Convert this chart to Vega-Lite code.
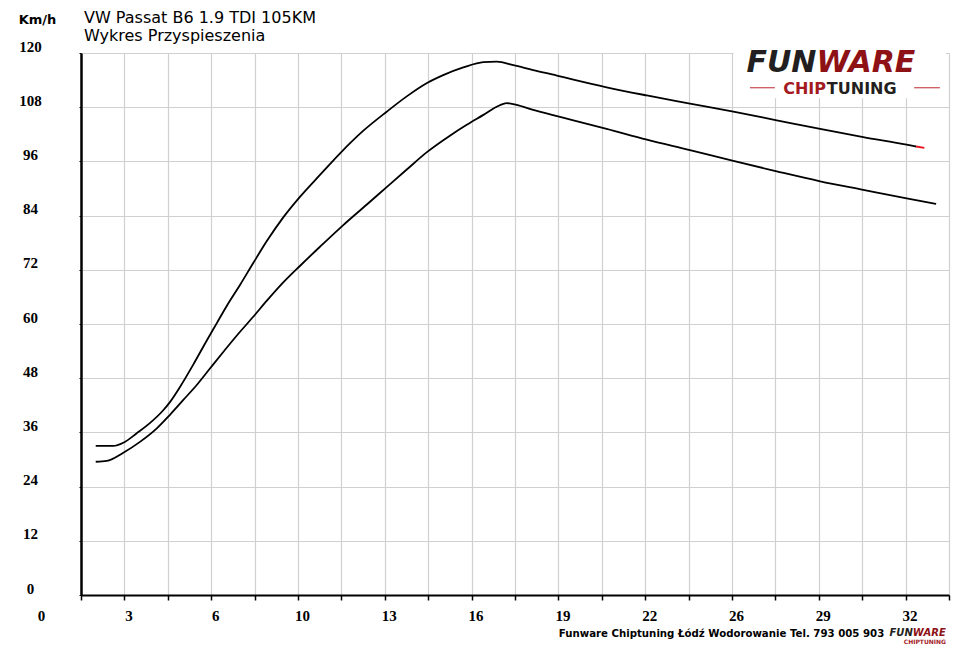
{
  "$schema": "https://vega.github.io/schema/vega-lite/v6.json",
  "width": 868,
  "height": 542,
  "autosize": {"type": "none"},
  "padding": {"left": 81, "top": 53, "right": 11, "bottom": 53},
  "background": "white",
  "title": {
    "text": "VW Passat B6 1.9 TDI 105KM",
    "subtitle": "Wykres Przyspieszenia",
    "anchor": "start",
    "frame": "group",
    "dx": 3,
    "offset": -31,
    "font": "DejaVu Sans",
    "fontSize": 16,
    "fontWeight": "normal",
    "color": "black",
    "subtitleFont": "DejaVu Sans",
    "subtitleFontSize": 16,
    "subtitleColor": "black",
    "subtitlePadding": 2
  },
  "config": {
    "view": {"stroke": null},
    "axis": {
      "gridColor": "#d0d0d0",
      "gridWidth": 1.2,
      "domainColor": "black",
      "tickColor": "black",
      "labelFont": "Liberation Serif",
      "labelFontWeight": "bold",
      "labelFontSize": 15,
      "labelColor": "black"
    }
  },
  "datasets": {
    "curves": [
      {"t": 1.95, "v": 33.0, "seria": "A"},
      {"t": 2.61, "v": 33.0, "seria": "A"},
      {"t": 2.98, "v": 33.7, "seria": "A"},
      {"t": 3.48, "v": 35.8, "seria": "A"},
      {"t": 3.98, "v": 38.1, "seria": "A"},
      {"t": 4.47, "v": 40.9, "seria": "A"},
      {"t": 4.72, "v": 42.7, "seria": "A"},
      {"t": 5.10, "v": 46.1, "seria": "A"},
      {"t": 5.59, "v": 51.0, "seria": "A"},
      {"t": 6.09, "v": 56.3, "seria": "A"},
      {"t": 6.47, "v": 60.2, "seria": "A"},
      {"t": 6.84, "v": 64.0, "seria": "A"},
      {"t": 7.34, "v": 68.7, "seria": "A"},
      {"t": 7.83, "v": 73.5, "seria": "A"},
      {"t": 8.33, "v": 78.3, "seria": "A"},
      {"t": 8.95, "v": 83.6, "seria": "A"},
      {"t": 9.58, "v": 88.2, "seria": "A"},
      {"t": 10.32, "v": 93.0, "seria": "A"},
      {"t": 11.07, "v": 97.8, "seria": "A"},
      {"t": 11.94, "v": 102.8, "seria": "A"},
      {"t": 12.81, "v": 107.0, "seria": "A"},
      {"t": 13.56, "v": 110.4, "seria": "A"},
      {"t": 14.30, "v": 113.3, "seria": "A"},
      {"t": 14.92, "v": 115.1, "seria": "A"},
      {"t": 15.67, "v": 116.8, "seria": "A"},
      {"t": 16.42, "v": 118.0, "seria": "A"},
      {"t": 16.92, "v": 118.1, "seria": "A"},
      {"t": 17.54, "v": 117.3, "seria": "A"},
      {"t": 18.28, "v": 116.2, "seria": "A"},
      {"t": 19.16, "v": 115.0, "seria": "A"},
      {"t": 19.78, "v": 114.1, "seria": "A"},
      {"t": 21.02, "v": 112.4, "seria": "A"},
      {"t": 22.52, "v": 110.6, "seria": "A"},
      {"t": 24.13, "v": 108.8, "seria": "A"},
      {"t": 25.75, "v": 107.0, "seria": "A"},
      {"t": 27.37, "v": 105.1, "seria": "A"},
      {"t": 28.99, "v": 103.2, "seria": "A"},
      {"t": 30.60, "v": 101.4, "seria": "A"},
      {"t": 32.22, "v": 99.7, "seria": "A"},
      {"t": 32.57, "v": 99.3, "seria": "A"},
      {"t": 32.57, "v": 99.3, "seria": "A_koniec"},
      {"t": 32.88, "v": 99.0, "seria": "A_koniec"},
      {"t": 1.95, "v": 29.5, "seria": "B"},
      {"t": 2.36, "v": 29.7, "seria": "B"},
      {"t": 2.98, "v": 31.5, "seria": "B"},
      {"t": 3.60, "v": 33.9, "seria": "B"},
      {"t": 4.23, "v": 36.9, "seria": "B"},
      {"t": 4.72, "v": 39.9, "seria": "B"},
      {"t": 5.22, "v": 43.2, "seria": "B"},
      {"t": 5.72, "v": 46.5, "seria": "B"},
      {"t": 6.22, "v": 50.2, "seria": "B"},
      {"t": 6.71, "v": 53.8, "seria": "B"},
      {"t": 7.21, "v": 57.4, "seria": "B"},
      {"t": 7.83, "v": 61.6, "seria": "B"},
      {"t": 8.33, "v": 65.1, "seria": "B"},
      {"t": 8.95, "v": 69.2, "seria": "B"},
      {"t": 9.58, "v": 72.9, "seria": "B"},
      {"t": 10.32, "v": 77.1, "seria": "B"},
      {"t": 11.19, "v": 81.9, "seria": "B"},
      {"t": 12.06, "v": 86.4, "seria": "B"},
      {"t": 12.81, "v": 90.3, "seria": "B"},
      {"t": 13.56, "v": 94.2, "seria": "B"},
      {"t": 14.30, "v": 98.0, "seria": "B"},
      {"t": 15.17, "v": 101.7, "seria": "B"},
      {"t": 15.80, "v": 104.1, "seria": "B"},
      {"t": 16.42, "v": 106.3, "seria": "B"},
      {"t": 16.92, "v": 108.1, "seria": "B"},
      {"t": 17.29, "v": 108.9, "seria": "B"},
      {"t": 17.66, "v": 108.5, "seria": "B"},
      {"t": 18.28, "v": 107.4, "seria": "B"},
      {"t": 18.91, "v": 106.4, "seria": "B"},
      {"t": 19.78, "v": 105.1, "seria": "B"},
      {"t": 21.02, "v": 103.2, "seria": "B"},
      {"t": 22.52, "v": 100.8, "seria": "B"},
      {"t": 24.13, "v": 98.5, "seria": "B"},
      {"t": 25.75, "v": 96.1, "seria": "B"},
      {"t": 27.37, "v": 93.8, "seria": "B"},
      {"t": 28.99, "v": 91.6, "seria": "B"},
      {"t": 30.60, "v": 89.7, "seria": "B"},
      {"t": 32.22, "v": 87.8, "seria": "B"},
      {"t": 33.32, "v": 86.6, "seria": "B"}
    ]
  },
  "layer": [
    {
      "data": {"name": "curves"},
      "mark": {"type": "line", "strokeWidth": 1.8, "interpolate": "monotone"},
      "encoding": {
        "x": {
          "field": "t",
          "type": "quantitative",
          "scale": {"domain": [1.4, 33.8], "nice": false, "zero": false},
          "axis": {
            "values": [1.4, 3.02, 4.64, 6.26, 7.88, 9.5, 11.12, 12.74, 14.36, 15.98, 17.6, 19.22, 20.84, 22.46, 24.08, 25.7, 27.32, 28.94, 30.56, 32.18, 33.8],
            "labelExpr": "round((datum.value - 1.4) / 1.62) % 2 == 1 ? format(round(datum.value), 'd') : ''",
            "domainWidth": 2,
            "tickSize": 5,
            "tickWidth": 1.5,
            "labelPadding": 15,
            "labelBaseline": "middle",
            "labelOffset": 4,
            "labelFlush": false,
            "labelOverlap": false,
            "title": "Funware Chiptuning Łódź Wodorowanie Tel. 793 005 903",
            "titleFont": "DejaVu Sans",
            "titleFontSize": 10.2,
            "titleFontWeight": "bold",
            "titleColor": "black",
            "titleX": 640,
            "titleY": 38,
            "titleAlign": "center",
            "titleBaseline": "middle"
          }
        },
        "y": {
          "field": "v",
          "type": "quantitative",
          "scale": {"domain": [0, 120], "nice": false},
          "axis": {
            "values": [0, 6, 12, 18, 24, 30, 36, 42, 48, 54, 60, 66, 72, 78, 84, 90, 96, 102, 108, 114, 120],
            "labelExpr": "datum.value % 12 == 0 ? datum.label : ''",
            "domainWidth": 2.5,
            "tickSize": 2,
            "labelAlign": "center",
            "labelBaseline": "middle",
            "labelPadding": 49,
            "labelOffset": -7,
            "labelFlush": false,
            "labelOverlap": false,
            "title": "Km/h",
            "titleFont": "DejaVu Sans",
            "titleFontSize": 13,
            "titleFontWeight": "bold",
            "titleColor": "black",
            "titleAngle": 0,
            "titleAlign": "center",
            "titleBaseline": "middle",
            "titleX": -44,
            "titleY": -34
          }
        },
        "color": {
          "field": "seria",
          "type": "nominal",
          "scale": {"domain": ["A", "B", "A_koniec"], "range": ["#000000", "#000000", "#e8141c"]},
          "legend": null
        }
      }
    },
    {
      "data": {"values": [{}]},
      "mark": {"type": "rect", "fill": "white"},
      "encoding": {
        "x": {"datum": 25.76, "type": "quantitative"},
        "x2": {"datum": 33.68},
        "y": {"datum": 110.0, "type": "quantitative"},
        "y2": {"datum": 124.9}
      }
    },
    {
      "data": {"values": [{}]},
      "mark": {"type": "text", "align": "right", "baseline": "alphabetic", "font": "DejaVu Sans", "fontSize": 30, "fontWeight": "bold", "fontStyle": "italic", "color": "#231f20"},
      "encoding": {
        "x": {"datum": 28.85, "type": "quantitative"},
        "y": {"datum": 115.8, "type": "quantitative"},
        "text": {"value": "FUN"}
      }
    },
    {
      "data": {"values": [{}]},
      "mark": {"type": "text", "align": "left", "baseline": "alphabetic", "font": "DejaVu Sans", "fontSize": 30, "fontWeight": "bold", "fontStyle": "italic", "color": "#8e1116"},
      "encoding": {
        "x": {"datum": 28.85, "type": "quantitative"},
        "y": {"datum": 115.8, "type": "quantitative"},
        "text": {"value": "WARE"}
      }
    },
    {
      "data": {"values": [{}]},
      "mark": {"type": "text", "align": "right", "baseline": "alphabetic", "font": "DejaVu Sans", "fontSize": 16, "fontWeight": "bold", "color": "#a31a1f"},
      "encoding": {
        "x": {"datum": 29.21, "type": "quantitative"},
        "y": {"datum": 110.9, "type": "quantitative"},
        "text": {"value": "CHIP"}
      }
    },
    {
      "data": {"values": [{}]},
      "mark": {"type": "text", "align": "left", "baseline": "alphabetic", "font": "DejaVu Sans", "fontSize": 16, "fontWeight": "bold", "color": "#231f20"},
      "encoding": {
        "x": {"datum": 29.24, "type": "quantitative"},
        "y": {"datum": 110.9, "type": "quantitative"},
        "text": {"value": "TUNING"}
      }
    },
    {
      "data": {"values": [{}]},
      "mark": {"type": "rule", "color": "#c0272d", "strokeWidth": 1},
      "encoding": {
        "x": {"datum": 26.37, "type": "quantitative"},
        "x2": {"datum": 27.3},
        "y": {"datum": 112.3, "type": "quantitative"}
      }
    },
    {
      "data": {"values": [{}]},
      "mark": {"type": "rule", "color": "#c0272d", "strokeWidth": 1},
      "encoding": {
        "x": {"datum": 32.5, "type": "quantitative"},
        "x2": {"datum": 33.46},
        "y": {"datum": 112.3, "type": "quantitative"}
      }
    },
    {
      "data": {"values": [{}]},
      "mark": {"type": "text", "align": "center", "baseline": "middle", "dx": -2, "dy": 21, "font": "Liberation Serif", "fontSize": 15, "fontWeight": "bold", "color": "black"},
      "encoding": {
        "x": {"datum": 0, "type": "quantitative"},
        "y": {"datum": 0, "type": "quantitative"},
        "text": {"value": "0"}
      }
    },
    {
      "data": {"values": [{}]},
      "mark": {"type": "text", "align": "right", "baseline": "alphabetic", "dy": 41, "font": "DejaVu Sans", "fontSize": 10, "fontWeight": "bold", "fontStyle": "italic", "color": "#231f20"},
      "encoding": {
        "x": {"datum": 32.45, "type": "quantitative"},
        "y": {"datum": 0, "type": "quantitative"},
        "text": {"value": "FUN"}
      }
    },
    {
      "data": {"values": [{}]},
      "mark": {"type": "text", "align": "left", "baseline": "alphabetic", "dy": 41, "font": "DejaVu Sans", "fontSize": 10, "fontWeight": "bold", "fontStyle": "italic", "color": "#8e1116"},
      "encoding": {
        "x": {"datum": 32.45, "type": "quantitative"},
        "y": {"datum": 0, "type": "quantitative"},
        "text": {"value": "WARE"}
      }
    },
    {
      "data": {"values": [{}]},
      "mark": {"type": "text", "align": "center", "baseline": "alphabetic", "dy": 49, "font": "DejaVu Sans", "fontSize": 6, "fontWeight": "bold", "color": "#a31a1f"},
      "encoding": {
        "x": {"datum": 32.9, "type": "quantitative"},
        "y": {"datum": 0, "type": "quantitative"},
        "text": {"value": "CHIPTUNING"}
      }
    }
  ]
}
